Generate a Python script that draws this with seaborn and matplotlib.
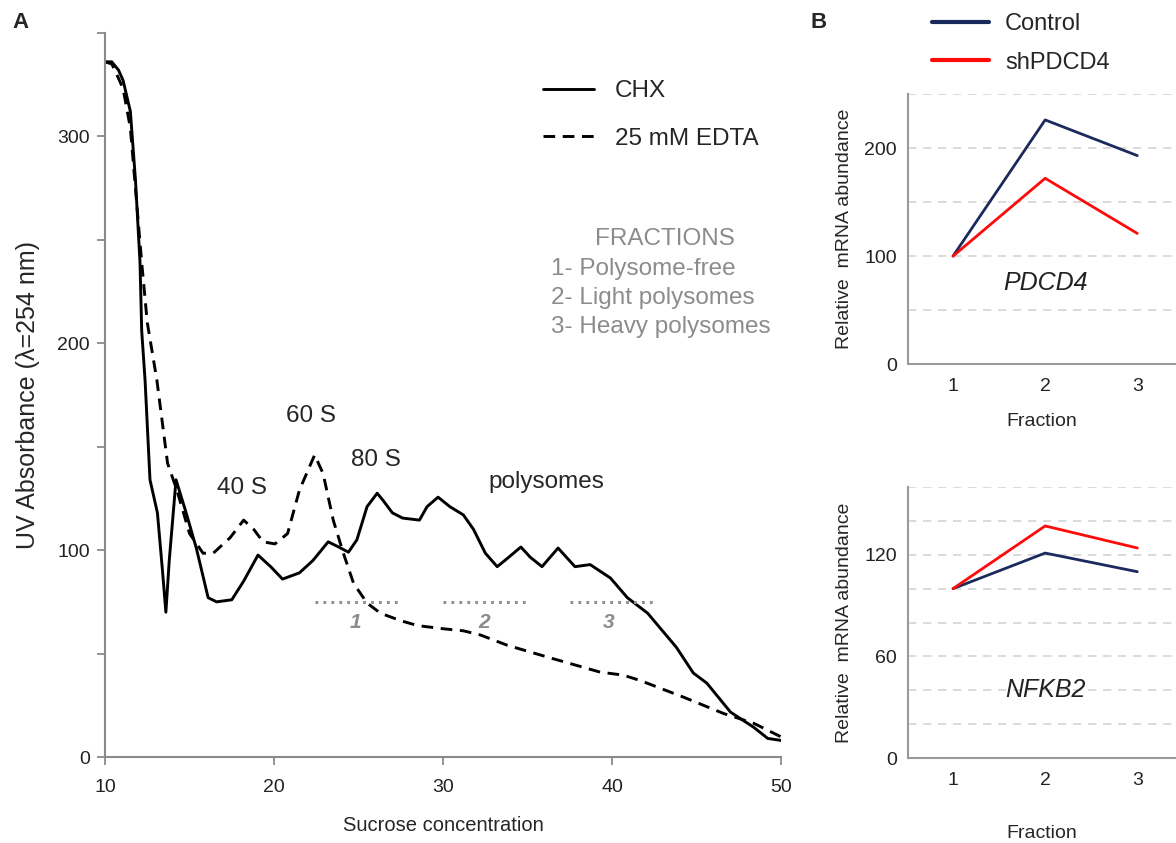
import matplotlib
matplotlib.use("Agg")
import matplotlib.pyplot as plt
import seaborn as sns
import pandas as pd
from matplotlib.lines import Line2D

# ---------------- data ----------------
sucrose_chx = [10.0, 10.4, 10.8, 11.07, 11.5, 11.8, 12.07, 12.17, 12.37, 12.66, 13.1, 13.4, 13.6,
               13.8, 14.2, 14.8, 15.4, 16.1, 16.6, 17.5, 18.2, 19.05, 19.8, 20.5, 21.5, 22.3,
               23.2, 23.8, 24.4, 24.9, 25.5, 26.1, 26.45, 27.0, 27.6, 28.6, 29.05, 29.7, 30.4,
               31.2, 31.8, 32.5, 33.2, 33.8, 34.6, 35.15, 35.85, 36.8, 37.8, 38.7, 39.9, 40.9,
               42.1, 43.8, 44.8, 45.6, 47.0, 48.35, 49.2, 50.0]
abs_chx = [336, 336, 332, 327, 312, 279, 239, 206, 182, 134, 118, 90, 70,
           95, 134, 118, 101, 77, 75, 76, 85, 97.6, 92, 86, 89, 95,
           104, 101.6, 99, 105, 121, 127.5, 124, 118, 115.5, 114.5, 121, 125.6, 121,
           117, 110, 98.5, 92, 96, 101.5, 96.6, 92, 101, 92, 93, 86.5, 77,
           69.5, 53, 40.6, 35.7, 21.7, 14.5, 9, 8]

sucrose_edta = [10.0, 10.4, 10.8, 11.07, 11.5, 12.17, 12.5, 13.07, 13.7, 14.25, 15.0, 15.8, 16.4,
                17.4, 18.2, 18.8, 19.35, 20.05, 20.8, 21.5, 22.4, 22.9, 23.5, 24.1, 24.7, 25.5,
                26.3, 27.45, 28.5, 30.0, 31.2, 32.2, 33.8, 36.3, 39.3, 40.65, 41.65, 44.2, 46.6,
                48.35, 50.0]
abs_edta = [336, 335, 328, 323, 304, 239, 210, 182, 142, 129, 108, 98.5, 98.5,
            106, 114.5, 110, 104, 103, 108, 129, 146, 137, 114.5, 98.5, 84, 74.4,
            69.5, 66, 63.5, 62, 61, 59, 54, 48, 41, 39.6, 37, 29, 21,
            16.4, 9.7]

fractions = [1, 2, 3]
pdcd4_control = [100, 226, 193]
pdcd4_sh = [100, 172, 121]
nfkb2_control = [100, 121, 110]
nfkb2_sh = [100, 137, 124]

fraction_ranges = [(22.4, 27.45), (30.0, 35.0), (37.5, 42.5)]
fraction_level = 75
fraction_labels = ["1", "2", "3"]
fraction_label_x = [24.8, 32.4, 39.8]

fraction_legend = ["1- Polysome-free", "2- Light polysomes", "3- Heavy polysomes"]

# ---------------- style ----------------
sns.set_style("ticks")
plt.rcParams["font.family"] = ["Liberation Sans", "DejaVu Sans"]

NAVY = "#1b2a5c"
RED = "#ff0a0a"
GRAY_TXT = "#8c8c8c"
SPINE = "#8a8a8a"
FS_A = 17.5

fig = plt.figure(figsize=(11.76, 8.43), dpi=100)

# ---------------- panel A ----------------
axA = fig.add_axes([0.0893, 0.102, 0.575, 0.859])
df_chx = pd.DataFrame({"x": sucrose_chx, "y": abs_chx})
df_edta = pd.DataFrame({"x": sucrose_edta, "y": abs_edta})
sns.lineplot(data=df_chx, x="x", y="y", ax=axA, color="black", lw=2.1, sort=False)
sns.lineplot(data=df_edta, x="x", y="y", ax=axA, color="black", lw=2.1, sort=False,
             linestyle=(0, (4, 2.6)))

for (a, b) in fraction_ranges:
    axA.plot([a, b], [fraction_level, fraction_level], color="#8f8f8f", lw=2.2,
             linestyle=(0, (0.9, 1.7)))
for lab, lx in zip(fraction_labels, fraction_label_x):
    axA.text(lx, 65, lab, ha="center", va="center", color=GRAY_TXT, fontsize=15,
             fontweight="bold", style="italic")

axA.set_xlim(10, 50)
axA.set_ylim(0, 350)
axA.set_xticks([10, 20, 30, 40, 50])
axA.set_yticks([0, 50, 100, 150, 200, 250, 300, 350])
axA.set_yticklabels(["0", "", "100", "", "200", "", "300", ""])
axA.tick_params(axis="both", length=6, width=1.3, color=SPINE, labelsize=14,
                labelcolor="#222222")
axA.tick_params(axis="x", pad=10)
axA.tick_params(axis="y", pad=5)
for s in ["top", "right"]:
    axA.spines[s].set_visible(False)
for s in ["left", "bottom"]:
    axA.spines[s].set_color(SPINE)
    axA.spines[s].set_linewidth(1.5)
axA.set_xlabel("Sucrose concentration", fontsize=14.5, labelpad=14)
axA.set_ylabel("UV Absorbance (λ=254 nm)", fontsize=18, labelpad=12)

axA.text(18.1, 130, "40 S", ha="center", va="center", fontsize=FS_A)
axA.text(22.2, 165, "60 S", ha="center", va="center", fontsize=FS_A)
axA.text(26.0, 143.5, "80 S", ha="center", va="center", fontsize=FS_A)
axA.text(36.1, 133, "polysomes", ha="center", va="center", fontsize=FS_A)

axA.text(43.1, 250.5, "FRACTIONS", ha="center", va="center", fontsize=FS_A, color=GRAY_TXT)
for i, line in enumerate(fraction_legend):
    axA.text(36.4, 236 - 14 * i, line, ha="left", va="center", fontsize=FS_A, color=GRAY_TXT)

handlesA = [Line2D([], [], color="black", lw=2.1),
            Line2D([], [], color="black", lw=2.1, linestyle=(0, (4, 2.6)))]
fig.legend(handlesA, ["CHX", "25 mM EDTA"], loc="upper left",
           bbox_to_anchor=(543 / 1176, 1 - 80 / 843), frameon=False, fontsize=FS_A,
           handlelength=2.1, handletextpad=0.85, labelspacing=1.05, borderpad=0,
           borderaxespad=0)

# ---------------- panel B ----------------
def style_b(ax, ymax, step, labeled):
    ax.set_xlim(0.51, 3.42)
    ax.set_ylim(0, ymax)
    ticks = list(range(0, ymax + 1, step))
    ax.set_yticks(ticks)
    ax.set_yticklabels([str(t) if t in labeled else "" for t in ticks])
    ax.set_xticks(fractions)
    ax.set_xticklabels([str(f) for f in fractions])
    ax.yaxis.grid(True, color="#d4d4d4", lw=1.2, linestyle=(0, (5, 4)))
    ax.xaxis.grid(False)
    ax.set_axisbelow(True)
    ax.tick_params(axis="both", length=0, labelsize=14, labelcolor="#222222")
    ax.tick_params(axis="y", pad=8)
    ax.tick_params(axis="x", pad=10)
    for s in ["top", "right"]:
        ax.spines[s].set_visible(False)
    for s in ["left", "bottom"]:
        ax.spines[s].set_color("#9a9a9a")
        ax.spines[s].set_linewidth(1.5)
    ax.set_ylabel("Relative  mRNA abundance", fontsize=14, labelpad=8)

axB1 = fig.add_axes([0.772, 0.568, 0.228, 0.3205])
df_p = pd.DataFrame({"fraction": fractions * 2,
                     "value": pdcd4_control + pdcd4_sh,
                     "group": ["Control"] * 3 + ["shPDCD4"] * 3})
sns.lineplot(data=df_p, x="fraction", y="value", hue="group",
             palette={"Control": NAVY, "shPDCD4": RED}, lw=2.0, ax=axB1, legend=False)
style_b(axB1, 250, 50, [0, 100, 200])
axB1.set_xlabel("Fraction", fontsize=14, labelpad=13)
axB1.text(2, 75, "PDCD4", ha="center", va="center", fontsize=18, style="italic",
          color="#222222")

axB2 = fig.add_axes([0.772, 0.1008, 0.228, 0.3215])
df_n = pd.DataFrame({"fraction": fractions * 2,
                     "value": nfkb2_control + nfkb2_sh,
                     "group": ["Control"] * 3 + ["shPDCD4"] * 3})
sns.lineplot(data=df_n, x="fraction", y="value", hue="group",
             palette={"Control": NAVY, "shPDCD4": RED}, lw=2.0, ax=axB2, legend=False)
style_b(axB2, 160, 20, [0, 60, 120])
axB2.set_xlabel("Fraction", fontsize=14, labelpad=26)
axB2.text(2, 40, "NFKB2", ha="center", va="center", fontsize=18, style="italic",
          color="#222222")

handlesB = [Line2D([], [], color=NAVY, lw=3), Line2D([], [], color=RED, lw=3)]
fig.legend(handlesB, ["Control", "shPDCD4"], loc="upper left",
           bbox_to_anchor=(932 / 1176, 1 - 13 / 843), frameon=False, fontsize=17,
           handlelength=2.4, handletextpad=0.7, labelspacing=0.7, borderpad=0,
           borderaxespad=0)

fig.text(12 / 1176, 1 - 22 / 843, "A", fontsize=16, fontweight="bold", va="center", ha="left")
fig.text(810 / 1176, 1 - 22 / 843, "B", fontsize=16, fontweight="bold", va="center", ha="left")

fig.savefig("out.png", dpi=100)
